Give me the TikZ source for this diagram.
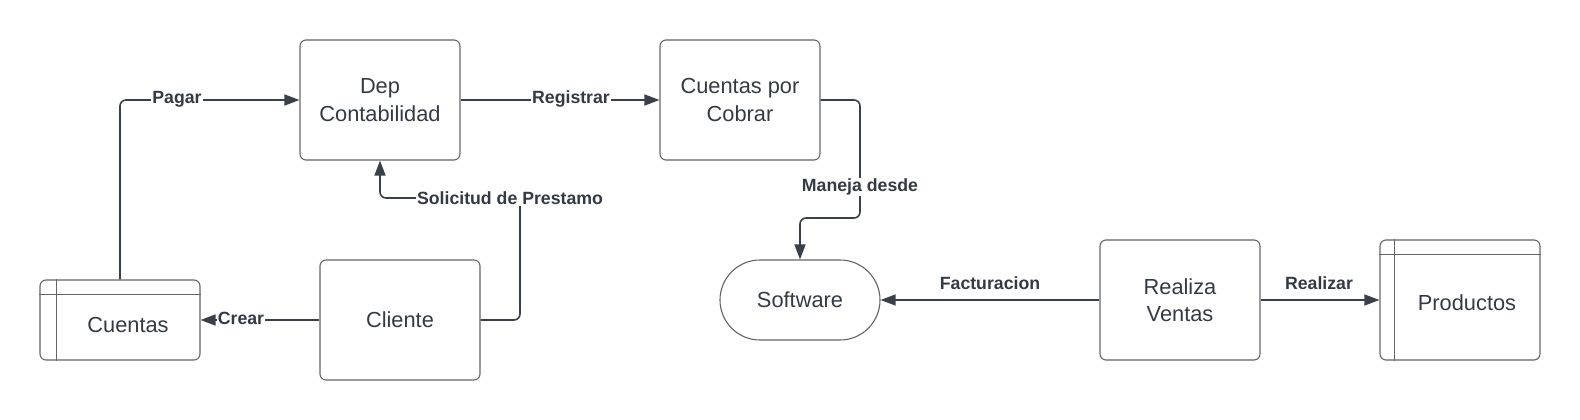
\documentclass[tikz,border=0pt]{standalone}
\usepackage{fontspec}
\setmainfont{Liberation Sans}
\usetikzlibrary{arrows.meta,calc}
\definecolor{txtc}{RGB}{52,58,68}
\definecolor{boxc}{RGB}{98,102,108}
\definecolor{linec}{RGB}{58,64,74}
\tikzset{
  box/.style={draw=boxc, line width=1.1pt, rounded corners=6pt, minimum width=160pt, minimum height=120pt, inner sep=0pt, align=center, text=txtc, font=\fontsize{21.8}{27.5}\selectfont},
  pill/.style={draw=boxc, line width=1.1pt, rounded corners=40pt, minimum width=160pt, minimum height=80pt, inner sep=0pt, text=txtc, font=\fontsize{21.8}{26}\selectfont},
  txt/.style={text=txtc, font=\fontsize{21.8}{26}\selectfont, inner sep=0pt},
  conn/.style={draw=linec, line width=1.6pt, rounded corners=6pt, -{Triangle[length=15pt,width=11pt]}},
  lbl/.style={fill=white, text=txtc, font=\bfseries\fontsize{17.7}{20}\selectfont, inner sep=1pt},
  lblt/.style={text=txtc, font=\bfseries\fontsize{17.7}{20}\selectfont, inner sep=1pt}
}
\begin{document}
\begin{tikzpicture}[x=1pt,y=-1pt]
\useasboundingbox (0,0) rectangle (1580,420);
% boxes
\node[box] (dep) at (380,100) {Dep\\Contabilidad};
\node[box] (ccob) at (740,100) {Cuentas por\\Cobrar};
\node[box] (cliente) at (400,320) {Cliente};
\node[box] (realiza) at (1180,300) {Realiza\\Ventas};
\node[pill] (software) at (800,300) {Software};
% Cuentas (table-like)
\node[box, minimum height=80pt] (cuentas) at (120,320) {};
\draw[draw=boxc, line width=1.1pt] ($(cuentas.north west)+(0,15)$) -- ($(cuentas.north east)+(0,15)$);
\draw[draw=boxc, line width=1.1pt] ($(cuentas.north west)+(17,0)$) -- ($(cuentas.south west)+(17,0)$);
\node[txt] (cuentast) at (128,324.5) {Cuentas};
% Productos (table-like)
\node[box] (productos) at (1460,300) {};
\draw[draw=boxc, line width=1.1pt] ($(productos.north west)+(0,15)$) -- ($(productos.north east)+(0,15)$);
\draw[draw=boxc, line width=1.1pt] ($(productos.north west)+(15,0)$) -- ($(productos.south west)+(15,0)$);
\node[txt] (productost) at (1467,303) {Productos};
% connectors
\draw[conn] (cuentas.north) |- (dep.west);
\node[lbl] (lpagar) at (177,99) {Pagar};
\draw[conn] (dep.east) -- (ccob.west);
\node[lbl] (lreg) at (571,99) {Registrar};
\coordinate (c1) at (860,218);
\draw[conn] (ccob.east) -| (c1) -| (software.north);
\node[lbl] (lman) at (860,187) {Maneja desde};
\coordinate (c2) at (520,198);
\draw[conn] (cliente.east) -| (c2) -| (dep.south);
\node[lbl] (lsol) at (510,198) {Solicitud de Prestamo};
\draw[conn] (cliente.west) -- (cuentas.east);
\node[lbl] (lcrear) at (241,318) {Crear};
\draw[conn, line width=1.2pt] (realiza.west) -- (software.east);
\node[lblt] (lfact) at (990,283) {Facturacion};
\draw[conn, line width=1.2pt] (realiza.east) -- (productos.west);
\node[lblt] (lreal) at (1319,283) {Realizar};
\end{tikzpicture}
\end{document}
